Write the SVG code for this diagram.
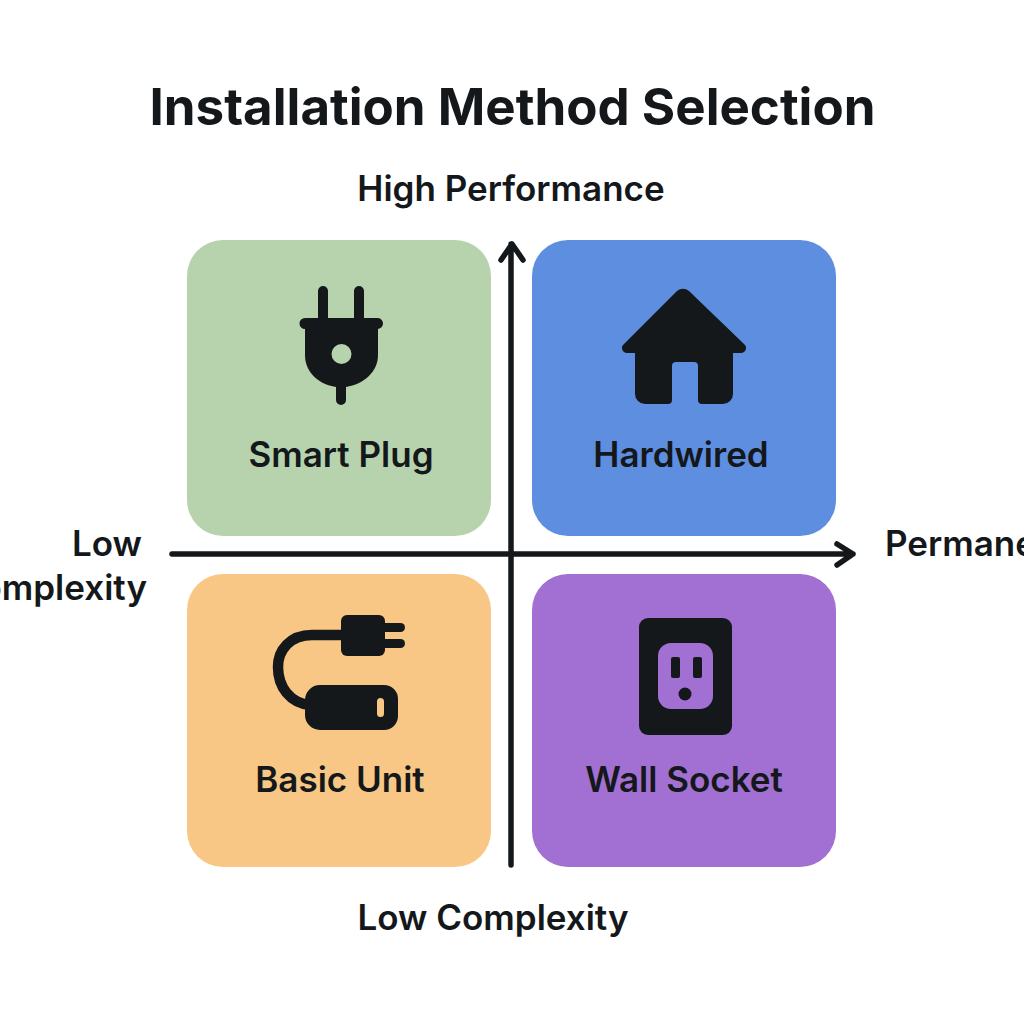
<svg xmlns="http://www.w3.org/2000/svg" width="1024" height="1024" viewBox="0 0 1024 1024">
<style>
text{font-family:Inter,"Liberation Sans",sans-serif;fill:#14181b;font-weight:600}
.t{font-size:51px;font-weight:700;text-anchor:middle}
.a{font-size:35px}
.l{font-size:35px;text-anchor:middle}
.i{fill:#14181b}
.ax{fill:none;stroke:#14181b;stroke-width:5.500;stroke-linecap:round;stroke-linejoin:round}
</style>
<rect width="1024" height="1024" fill="#fff"/>
<text class="t" x="512.500" y="125" textLength="726" lengthAdjust="spacingAndGlyphs">Installation Method Selection</text>
<text class="a" x="511" y="201" text-anchor="middle">High Performance</text>
<text class="a" x="493" y="930" text-anchor="middle">Low Complexity</text>
<text class="a" x="142" y="556" text-anchor="end">Low</text>
<text class="a" x="147" y="600" text-anchor="end">Complexity</text>
<text class="a" x="885" y="556">Permanent</text>
<g id="smart-plug">
<rect x="187" y="240" width="304" height="296" rx="36" fill="#b7d3ae"/>
<path class="i" fill-rule="evenodd" d="M318 318V291a5 5 0 0 1 10 0V318H354V291a5 5 0 0 1 10 0V318H377A5.500 5.500 0 0 1 378 329V355C378 372 364 384 346 387V400a5 5 0 0 1-10 0V387C318 384 305 372 305 355V329A5.500 5.500 0 0 1 305 318ZM351.500 354a10 10 0 1 0-20 0a10 10 0 1 0 20 0Z"/>
<text class="l" x="341" y="467">Smart Plug</text>
</g>
<g id="hardwired">
<rect x="532" y="240" width="304" height="296" rx="36" fill="#5e8ee0"/>
<path class="i" d="M677 291a9 9 0 0 1 12 0L744 344a5 5 0 0 1-3 9H733V394a10 10 0 0 1-10 10H702a4 4 0 0 1-4-4V366a4 4 0 0 0-4-4H676a4 4 0 0 0-4 4V400a4 4 0 0 1-4 4H645a10 10 0 0 1-10-10V353H627a5 5 0 0 1-3-9Z"/>
<text class="l" x="681" y="467">Hardwired</text>
</g>
<g id="basic-unit">
<rect x="187" y="574" width="304" height="293" rx="36" fill="#f8c785"/>
<path fill="none" stroke="#14181b" stroke-width="10.500" d="M345 635H312C290 635 278 650 278 667C278 687 290 703 310 705"/>
<rect class="i" x="341" y="615" width="44" height="41" rx="6"/>
<rect class="i" x="380" y="623" width="25" height="9" rx="4.500"/>
<rect class="i" x="380" y="639" width="25" height="9" rx="4.500"/>
<path class="i" fill-rule="evenodd" d="M320 685H384a14 14 0 0 1 14 14V716a14 14 0 0 1-14 14H320a15 15 0 0 1-15-15V700a15 15 0 0 1 15-15ZM380.500 698a3.500 3.500 0 0 0-3.500 3.500V713.500a3.500 3.500 0 0 0 7 0V701.500a3.500 3.500 0 0 0-3.500-3.500Z"/>
<text class="l" x="340" y="792">Basic Unit</text>
</g>
<g id="wall-socket">
<rect x="532" y="574" width="304" height="293" rx="36" fill="#a26fd2"/>
<rect class="i" x="639" y="618" width="93" height="117" rx="9"/>
<rect x="658" y="643" width="55" height="66" rx="13" fill="#a26fd2"/>
<rect class="i" x="671" y="657" width="9" height="21" rx="2"/>
<rect class="i" x="693" y="657" width="9" height="21" rx="2"/>
<circle class="i" cx="685" cy="694" r="6.500"/>
<text class="l" x="684" y="792">Wall Socket</text>
</g>
<g id="connectors">
<path class="ax" d="M511 865V244M501 260L512 244L523 260"/>
<path class="ax" d="M172 554H853M837 544L853 554L837 565"/>
</g>
</svg>
